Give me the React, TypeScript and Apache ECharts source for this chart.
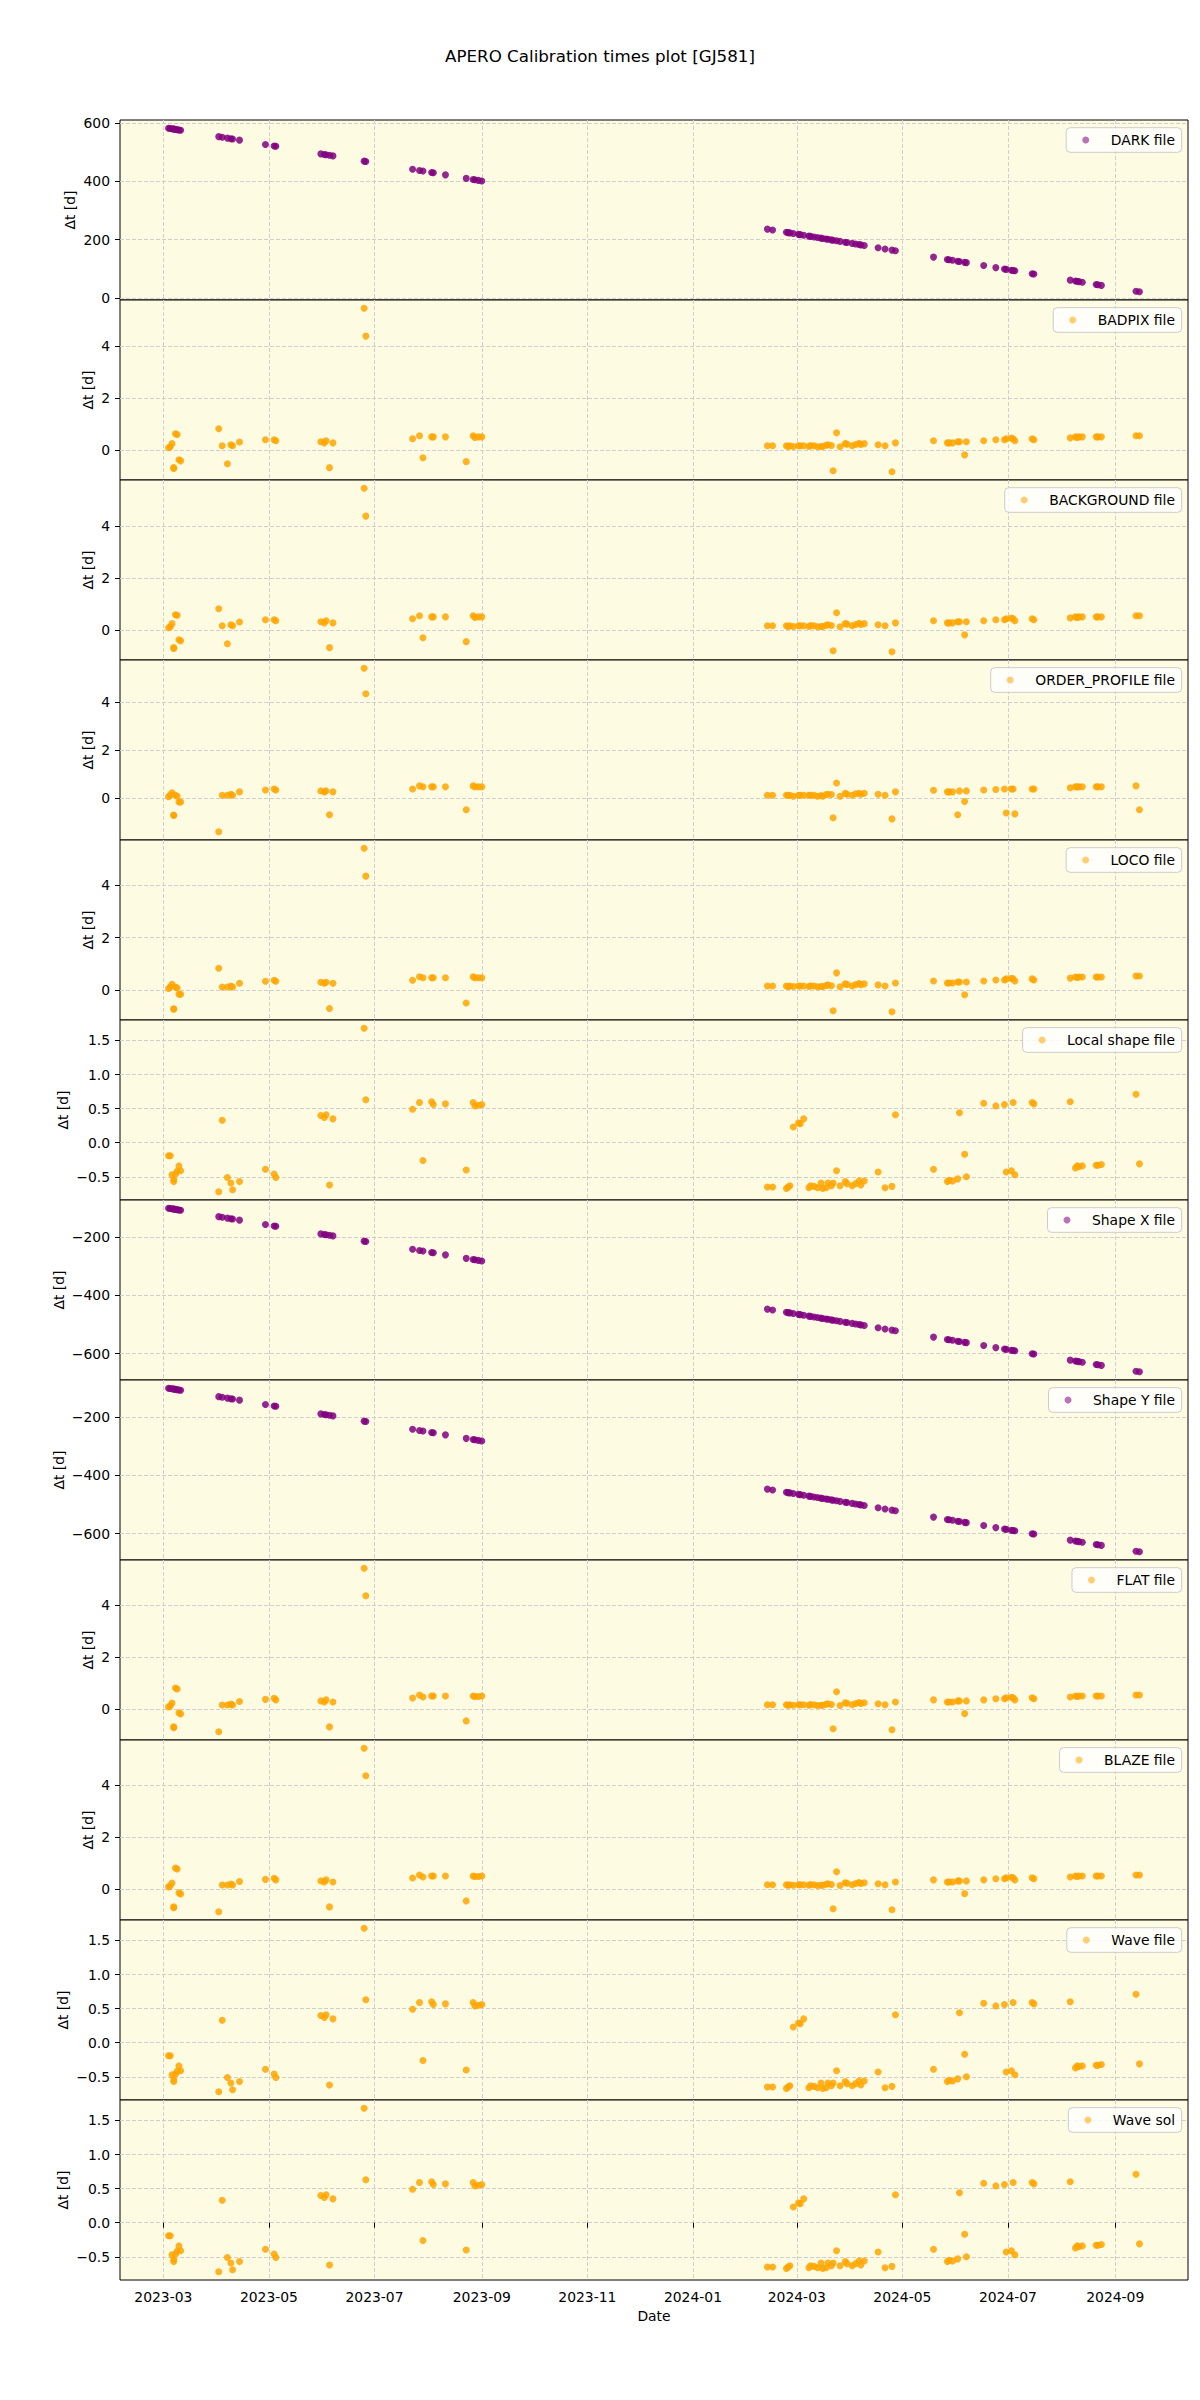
import React, { useEffect, useRef } from 'react';
import * as echarts from 'echarts';

// Observation dates (shared by every panel)
const DATES = [
  '2023-03-04', '2023-03-05', '2023-03-06', '2023-03-07', '2023-03-07', '2023-03-08', '2023-03-09', '2023-03-10', '2023-03-11',
  '2023-04-02', '2023-04-04', '2023-04-07', '2023-04-09', '2023-04-10', '2023-04-14',
  '2023-04-29', '2023-05-04', '2023-05-05',
  '2023-05-31', '2023-06-02', '2023-06-03', '2023-06-05', '2023-06-07',
  '2023-06-25', '2023-06-26',
  '2023-07-23', '2023-07-27', '2023-07-29', '2023-08-03', '2023-08-04', '2023-08-11',
  '2023-08-23', '2023-08-27', '2023-08-28', '2023-08-30', '2023-09-01',
  '2024-02-13', '2024-02-16', '2024-02-24', '2024-02-25', '2024-02-26', '2024-02-28', '2024-03-02', '2024-03-03',
  '2024-03-05', '2024-03-08', '2024-03-09', '2024-03-11', '2024-03-13', '2024-03-15', '2024-03-16', '2024-03-18',
  '2024-03-19', '2024-03-21', '2024-03-22', '2024-03-24', '2024-03-26', '2024-03-29', '2024-03-30', '2024-04-02',
  '2024-04-04', '2024-04-06', '2024-04-07', '2024-04-09', '2024-04-17', '2024-04-21', '2024-04-25', '2024-04-27',
  '2024-05-19', '2024-05-27', '2024-05-28', '2024-05-30', '2024-06-02', '2024-06-03', '2024-06-06', '2024-06-07',
  '2024-06-17', '2024-06-24', '2024-06-29', '2024-06-30', '2024-07-03', '2024-07-04', '2024-07-05', '2024-07-15',
  '2024-07-16',
  '2024-08-06', '2024-08-09', '2024-08-10', '2024-08-11', '2024-08-13', '2024-08-21', '2024-08-22', '2024-08-24',
  '2024-09-13', '2024-09-15',
];

const DARK = [
  582, 581, 580, 579, 579, 578, 577, 576, 575, 553, 551, 548, 546, 545, 541, 526, 521, 520, 494, 492, 491, 489, 487,
  469, 468, 441, 437, 435, 430, 429, 422, 410, 406, 405, 403, 401,
  236, 233, 225, 224, 223, 221, 218, 217, 215, 212, 211, 209, 207, 205, 204, 202, 201, 199, 198, 196, 194, 191, 190,
  187, 185, 183, 182, 180, 172, 168, 164, 162,
  140, 132, 131, 129, 126, 125, 122, 121, 111, 104, 99, 98, 95, 94, 93, 83, 82,
  61, 58, 57, 56, 54, 46, 45, 43, 23, 21,
];

const BADPIX = [
  0.10, 0.14, 0.26, -0.66, -0.69, 0.64, 0.61, -0.36, -0.40,
  0.83, 0.18, -0.51, 0.22, 0.18, 0.32,
  0.41, 0.41, 0.37,
  0.33, 0.29, 0.37, -0.66, 0.29,
  5.45, 4.38,
  0.45, 0.56, -0.28, 0.52, 0.52, 0.52,
  -0.43, 0.56, 0.50, 0.52, 0.52,
  0.18, 0.18, 0.18, 0.15, 0.18, 0.15, 0.18, 0.18, 0.18, 0.15, 0.19, 0.18, 0.14, 0.15, 0.15, 0.20, 0.22, 0.19,
  -0.78, 0.68, 0.14, 0.26, 0.24, 0.18, 0.23, 0.27, 0.23, 0.26, 0.22, 0.18, -0.82, 0.29,
  0.37, 0.29, 0.29, 0.29, 0.33, 0.33, -0.17, 0.33, 0.37, 0.41, 0.41, 0.45, 0.47, 0.45, 0.37, 0.45, 0.41,
  0.48, 0.52, 0.50, 0.52, 0.52, 0.52, 0.52, 0.52, 0.56, 0.56,
];

const BACKGROUND = [
  0.10, 0.14, 0.26, -0.66, -0.69, 0.60, 0.58, -0.36, -0.40,
  0.83, 0.18, -0.51, 0.22, 0.18, 0.32,
  0.41, 0.41, 0.37,
  0.33, 0.29, 0.37, -0.66, 0.29,
  5.45, 4.38,
  0.45, 0.56, -0.28, 0.52, 0.52, 0.52,
  -0.43, 0.56, 0.50, 0.52, 0.52,
  0.18, 0.18, 0.18, 0.15, 0.18, 0.15, 0.18, 0.18, 0.18, 0.15, 0.19, 0.18, 0.14, 0.15, 0.15, 0.20, 0.22, 0.19,
  -0.78, 0.68, 0.14, 0.26, 0.24, 0.18, 0.23, 0.27, 0.23, 0.26, 0.22, 0.18, -0.82, 0.29,
  0.37, 0.29, 0.29, 0.29, 0.33, 0.33, -0.17, 0.33, 0.37, 0.41, 0.41, 0.45, 0.47, 0.45, 0.37, 0.45, 0.41,
  0.48, 0.52, 0.50, 0.52, 0.52, 0.52, 0.52, 0.52, 0.56, 0.56,
];

const ORDER_PROFILE = [
  0.05, 0.11, 0.21, -0.72, -0.74, 0.11, 0.07, -0.17, -0.17,
  -1.42, 0.11, 0.11, 0.15, 0.11, 0.25,
  0.33, 0.37, 0.33,
  0.29, 0.25, 0.29, -0.71, 0.25,
  5.42, 4.35,
  0.37, 0.50, 0.46, 0.46, 0.46, 0.46,
  -0.50, 0.50, 0.46, 0.46, 0.46,
  0.11, 0.11, 0.11, 0.11, 0.11, 0.07, 0.11, 0.11, 0.11, 0.11, 0.11, 0.11, 0.07, 0.10, 0.07, 0.14, 0.15, 0.14,
  -0.83, 0.62, 0.07, 0.19, 0.15, 0.11, 0.17, 0.19, 0.15, 0.19, 0.15, 0.11, -0.88, 0.25,
  0.32, 0.25, 0.25, 0.25, -0.71, 0.29, -0.15, 0.29, 0.33, 0.35, 0.37, -0.63, 0.37, 0.37, -0.67, 0.37, 0.37,
  0.42, 0.46, 0.46, 0.46, 0.46, 0.46, 0.46, 0.46, 0.50, -0.50,
];

const LOCO = [
  0.05, 0.11, 0.21, -0.72, -0.74, 0.11, 0.07, -0.17, -0.17,
  0.83, 0.11, 0.11, 0.15, 0.11, 0.25,
  0.33, 0.37, 0.33,
  0.29, 0.25, 0.29, -0.71, 0.25,
  5.42, 4.35,
  0.37, 0.50, 0.46, 0.46, 0.46, 0.46,
  -0.50, 0.50, 0.46, 0.46, 0.46,
  0.15, 0.15, 0.15, 0.13, 0.15, 0.13, 0.15, 0.15, 0.15, 0.13, 0.16, 0.15, 0.12, 0.13, 0.13, 0.17, 0.19, 0.16,
  -0.80, 0.65, 0.12, 0.23, 0.21, 0.15, 0.20, 0.24, 0.20, 0.23, 0.19, 0.15, -0.84, 0.26,
  0.34, 0.26, 0.26, 0.26, 0.30, 0.30, -0.19, 0.30, 0.34, 0.38, 0.38, 0.42, 0.44, 0.42, 0.34, 0.42, 0.38,
  0.45, 0.49, 0.47, 0.49, 0.49, 0.49, 0.49, 0.49, 0.53, 0.53,
];

const LOCAL_SHAPE = [
  -0.19, -0.19, -0.47, -0.54, -0.57, -0.46, -0.42, -0.34, -0.41,
  -0.72, 0.33, -0.51, -0.59, -0.69, -0.57,
  -0.39, -0.46, -0.51,
  0.40, 0.37, 0.41, -0.62, 0.35,
  1.68, 0.63,
  0.49, 0.59, -0.26, 0.60, 0.56, 0.57,
  -0.40, 0.59, 0.54, 0.55, 0.56,
  -0.65, -0.65, -0.67, -0.65, -0.63, 0.23, 0.29, 0.28, 0.35, -0.66, -0.63, -0.64, -0.66, -0.59, -0.67, -0.66,
  -0.59, -0.63, -0.59, -0.41, -0.63, -0.57, -0.60, -0.63, -0.60, -0.56, -0.62, -0.56, -0.43, -0.66, -0.64, 0.41,
  -0.39, -0.57, -0.55, -0.56, -0.53, 0.44, -0.17, -0.50, 0.58, 0.54, 0.56, -0.43, -0.41, 0.59, -0.47, 0.59, 0.57,
  0.60, -0.37, -0.34, -0.35, -0.34, -0.33, -0.33, -0.32, 0.71, -0.31,
];

const SHAPE_X = [
  -101, -102, -103, -104, -104, -105, -106, -107, -108, -130, -132, -135, -137, -138, -142, -157, -162, -163,
  -189, -191, -192, -194, -196, -214, -215, -242, -246, -248, -253, -254, -261, -273, -277, -278, -280, -282,
  -447, -450, -458, -459, -460, -462, -465, -466, -468, -471, -472, -474, -476, -478, -479, -481, -482, -484,
  -485, -487, -489, -492, -493, -496, -498, -500, -501, -503, -511, -515, -519, -521,
  -543, -551, -552, -554, -557, -558, -561, -562, -572, -579, -584, -585, -588, -589, -590, -600, -601,
  -622, -625, -626, -627, -629, -637, -638, -640, -660, -662,
];

const SHAPE_Y = [
  -101, -102, -103, -104, -104, -105, -106, -107, -108, -130, -132, -135, -137, -138, -142, -157, -162, -163,
  -189, -191, -192, -194, -196, -214, -215, -242, -246, -248, -253, -254, -261, -273, -277, -278, -280, -282,
  -447, -450, -458, -459, -460, -462, -465, -466, -468, -471, -472, -474, -476, -478, -479, -481, -482, -484,
  -485, -487, -489, -492, -493, -496, -498, -500, -501, -503, -511, -515, -519, -521,
  -543, -551, -552, -554, -557, -558, -561, -562, -572, -579, -584, -585, -588, -589, -590, -600, -601,
  -622, -625, -626, -627, -629, -637, -638, -640, -660, -662,
];

const FLAT = [
  0.08, 0.12, 0.23, -0.69, -0.72, 0.81, 0.77, -0.15, -0.19,
  -0.88, 0.15, 0.15, 0.19, 0.15, 0.29,
  0.37, 0.41, 0.35,
  0.31, 0.27, 0.35, -0.69, 0.27,
  5.42, 4.36,
  0.42, 0.54, 0.46, 0.50, 0.50, 0.50,
  -0.46, 0.50, 0.48, 0.48, 0.50,
  0.16, 0.16, 0.16, 0.14, 0.16, 0.14, 0.16, 0.16, 0.16, 0.14, 0.17, 0.16, 0.13, 0.14, 0.14, 0.18, 0.20, 0.17,
  -0.76, 0.66, 0.13, 0.24, 0.22, 0.16, 0.21, 0.25, 0.21, 0.24, 0.20, 0.16, -0.80, 0.27,
  0.35, 0.27, 0.27, 0.27, 0.31, 0.31, -0.18, 0.31, 0.35, 0.39, 0.39, 0.43, 0.45, 0.43, 0.35, 0.43, 0.39,
  0.46, 0.50, 0.48, 0.50, 0.50, 0.50, 0.50, 0.50, 0.54, 0.54,
];

const BLAZE = FLAT.slice();
const WAVE_FILE = LOCAL_SHAPE.slice();
const WAVE_SOL = LOCAL_SHAPE.slice();

const X_TICKS = ['2023-03', '2023-05', '2023-07', '2023-09', '2023-11', '2024-01', '2024-03', '2024-05', '2024-07', '2024-09'];

const SERIES_NAMES = [
  'DARK file', 'BADPIX file', 'BACKGROUND file', 'ORDER_PROFILE file', 'LOCO file', 'Local shape file',
  'Shape X file', 'Shape Y file', 'FLAT file', 'BLAZE file', 'Wave file', 'Wave sol',
];
const SERIES_VALUES = [DARK, BADPIX, BACKGROUND, ORDER_PROFILE, LOCO, LOCAL_SHAPE, SHAPE_X, SHAPE_Y, FLAT, BLAZE, WAVE_FILE, WAVE_SOL];
const PURPLE = '#800080';
const ORANGE = '#ffa500';
const SERIES_COLORS = [PURPLE, ORANGE, ORANGE, ORANGE, ORANGE, ORANGE, PURPLE, PURPLE, ORANGE, ORANGE, ORANGE, ORANGE];
const Y_STEPS = [200, 2, 2, 2, 2, 0.5, 200, 200, 2, 2, 0.5, 0.5];

const FONT = 'DejaVu Sans';
const FS = 13.9;

// DejaVu Sans advance widths (em) for the characters used in tick labels
function textWidth(text: string): number {
  let w = 0;
  for (const ch of text) {
    if (ch === '\u2212') w += 0.838;
    else if (ch === '.') w += 0.318;
    else w += 0.636;
  }
  return w * FS;
}

function fmt(v: number, step: number): string {
  const s = step < 1 ? v.toFixed(1) : String(Math.round(v));
  return s.replace('-', '\u2212');
}

function buildOption() {
  const times = DATES.map((d) => Date.parse(d + 'T00:00:00Z'));
  const tMin = Math.min(...times);
  const tMax = Math.max(...times);
  const tPad = (tMax - tMin) * 0.05;
  const xMin = tMin - tPad;
  const xMax = tMax + tPad;
  const xTicks = X_TICKS.map((s) => Date.parse(s + '-01T00:00:00Z'));
  const xFmt = (v: number) => {
    const d = new Date(v);
    return `${d.getUTCFullYear()}-${String(d.getUTCMonth() + 1).padStart(2, '0')}`;
  };

  const grids: any[] = [];
  const xAxes: any[] = [];
  const yAxes: any[] = [];
  const series: any[] = [];
  const legends: any[] = [];
  const graphics: any[] = [];
  const n = SERIES_NAMES.length;
  const textBase = { fontFamily: FONT, fontSize: FS, color: '#000' };
  const gridLine = { show: true, lineStyle: { color: '#cfcfcf', type: [4, 2], width: 1 } };

  for (let i = 0; i < n; i++) {
    const top = 120 + 180 * i;
    const vals = SERIES_VALUES[i];
    const vMin = Math.min(...vals);
    const vMax = Math.max(...vals);
    const vPad = (vMax - vMin) * 0.05;
    const yMin = vMin - vPad;
    const yMax = vMax + vPad;
    const step = Y_STEPS[i];
    const yTicks: number[] = [];
    for (let k = Math.ceil(yMin / step); k <= Math.floor(yMax / step); k++) {
      yTicks.push(Math.round(k * step * 1000) / 1000);
    }
    const labelW = Math.max(...yTicks.map((t) => textWidth(fmt(t, step))));
    const last = i === n - 1;

    grids.push({
      left: 120, top, width: 1068, height: 180,
      show: true, backgroundColor: '#fdfbe1', borderColor: '#000', borderWidth: 1,
    });
    xAxes.push({
      type: 'value', gridIndex: i, min: xMin, max: xMax, scale: true,
      axisLine: { show: false },
      axisTick: { show: last, customValues: xTicks, length: 5, lineStyle: { color: '#000', width: 1 } },
      axisLabel: { show: last, customValues: xTicks, formatter: xFmt, margin: 10, ...textBase },
      splitLine: gridLine,
      name: last ? 'Date' : '', nameLocation: 'middle', nameGap: 29, nameMoveOverlap: false,
      nameTextStyle: textBase,
    });
    yAxes.push({
      type: 'value', gridIndex: i, min: yMin, max: yMax, scale: true,
      axisLine: { show: false },
      axisTick: { show: true, customValues: yTicks, length: 5, lineStyle: { color: '#000', width: 1 } },
      axisLabel: { show: true, customValues: yTicks, formatter: (v: number) => fmt(v, step), margin: 10, ...textBase },
      splitLine: gridLine,
    });
    graphics.push({
      type: 'text',
      x: 120 - 9.7 - labelW - 5.6 - 8,
      y: top + 90,
      rotation: Math.PI / 2,
      style: {
        text: '\u0394t [d]', fill: '#000', font: `${FS}px "${FONT}"`,
        align: 'center', verticalAlign: 'middle',
      },
    });
    series.push({
      type: 'scatter', name: SERIES_NAMES[i], xAxisIndex: i, yAxisIndex: i,
      data: times.map((t, j) => [t, vals[j]]),
      symbolSize: 7, silent: true, clip: true,
      itemStyle: { color: SERIES_COLORS[i], opacity: 0.85 },
    });
    legends.push({
      data: [{ name: SERIES_NAMES[i], itemStyle: { opacity: 0.55 } }],
      top: top + 7.7, right: 18.3, orient: 'vertical',
      icon: 'circle', itemWidth: 40, itemHeight: 7,
      padding: [4.3, 6.7, 4.3, 16],
      backgroundColor: 'rgba(255,255,255,0.8)', borderColor: '#cccccc', borderWidth: 1, borderRadius: 4,
      textStyle: { ...textBase, lineHeight: 16 },
      selectedMode: false,
    });
  }

  return {
    animation: false,
    backgroundColor: '#ffffff',
    title: {
      text: 'APERO Calibration times plot [GJ581]', left: 'center', top: 47, padding: 0,
      textStyle: { fontFamily: FONT, fontSize: 16.7, fontWeight: 'normal', color: '#000' },
    },
    grid: grids,
    xAxis: xAxes,
    yAxis: yAxes,
    legend: legends,
    graphic: graphics,
    series,
  };
}

export default function App() {
  const ref = useRef<HTMLDivElement>(null);
  useEffect(() => {
    if (!ref.current) return;
    const chart = echarts.init(ref.current, null, { renderer: 'svg' });
    chart.setOption(buildOption() as any);
    return () => chart.dispose();
  }, []);
  return (
    <div
      ref={ref}
      style={{ position: 'absolute', left: 0, top: 0, width: 1200, height: 2400, background: '#fff' }}
    />
  );
}
